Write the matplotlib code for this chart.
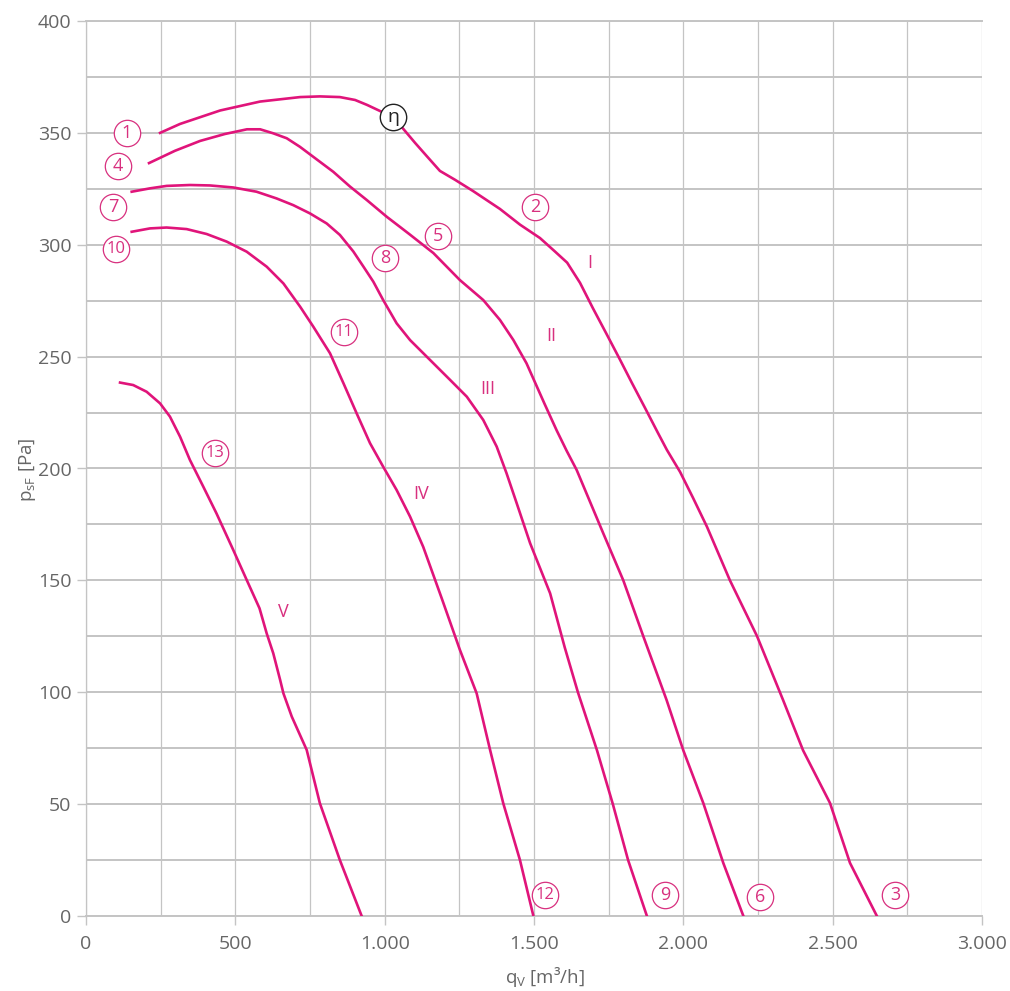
# %% ---- Requirements and constants
import numpy as np
import matplotlib
matplotlib.use("Agg")
import matplotlib.pyplot as plt
from matplotlib.ticker import MultipleLocator, FuncFormatter

plt.rcParams['font.family'] = ['Open Sans', 'DejaVu Sans']
plt.rcParams['mathtext.default'] = 'regular'

PINK = '#E0147A'
LABEL_PINK = '#D8307F'
GRID = '#C4C4C4'
TICK_TEXT = '#666666'

# %% ---- Data
# curve I, points 1 -> 2 -> 3
q_I = [248, 315, 382, 449, 516, 583, 650, 717, 783, 850, 901, 941, 984, 1028,
       1061, 1102, 1145, 1185, 1236, 1296, 1386, 1453, 1520, 1570, 1611, 1654,
       1697, 1741, 1785, 1828, 1872, 1915, 1945, 1989, 2032, 2079, 2156, 2247,
       2334, 2401, 2491, 2558, 2648]
p_I = [350, 354, 357, 360, 362, 364, 365, 366, 366.3, 366, 364.7, 362.5, 359.8, 357,
       352, 345.5, 339, 333, 329, 324, 316, 309, 303, 297, 292, 283,
       271.7, 260.6, 249.4, 238.2, 227, 215.9, 208.3, 198.5, 187, 174, 150, 125,
       96.5, 74, 50.5, 23.7, 0]

# curve II, points 4 -> 5 -> 6
q_II = [211, 298, 382, 465, 539, 583, 627, 672, 716, 761, 828, 884, 940, 1007,
        1051, 1085, 1163, 1252, 1330, 1386, 1431, 1475, 1535, 1576, 1609, 1643,
        1732, 1799, 1866, 1944, 2000, 2067, 2134, 2201]
p_II = [336.5, 342, 346.4, 349.5, 351.6, 351.6, 349.8, 347.6, 343.8, 339.3, 332.6, 326, 320, 312.5,
        308, 304.5, 296.3, 284.2, 275.3, 266.4, 257.4, 247, 229, 217, 208, 199.3,
        171, 150, 125, 96.5, 74, 50.4, 23.6, 0]

# curve III, points 7 -> 8 -> 9
q_III = [153, 214, 270, 348, 415, 493, 571, 638, 694, 750, 806, 850, 895, 929,
         962, 995, 1040, 1085, 1152, 1219, 1275, 1330, 1375, 1408, 1442, 1487,
         1554, 1603, 1647, 1711, 1764, 1815, 1878]
p_III = [323.7, 325.2, 326.3, 326.7, 326.5, 325.6, 323.7, 320.7, 317.7, 314, 309.5, 304.4, 297, 290.2,
         283.5, 275.3, 264.9, 257.4, 248.5, 239.6, 232.1, 221.7, 209.8, 197.9, 184.5, 166.6,
         144.2, 120, 100, 74, 50, 25, 0]

# curve IV, points 10 -> 11 -> 12
q_IV = [153, 214, 270, 337, 404, 471, 538, 605, 661, 717, 761, 817, 862, 906,
        951, 995, 1040, 1085, 1129, 1191, 1252, 1308, 1353, 1397, 1453, 1498]
p_IV = [305.8, 307.3, 307.7, 307, 304.8, 301.4, 296.9, 290.2, 282.7, 272.3, 263.4, 251.5, 238.1, 224.7,
        211.3, 200.8, 190.4, 178.5, 165, 142, 118.9, 99.5, 74.2, 50.4, 25, 0]

# curve V, point 13
q_V = [114, 158, 203, 248, 281, 315, 348, 393, 437, 493, 538, 581, 605, 627,
       650, 661, 689, 739, 783, 850, 923]
p_V = [238.4, 237.3, 234.3, 229.1, 223.2, 214.2, 203.8, 191.8, 179.9, 163.6, 150.2, 137.5, 126.3, 117.4,
       105.5, 99.5, 89.1, 74.2, 50.4, 25, 0]

curves = [(q_I, p_I), (q_II, p_II), (q_III, p_III), (q_IV, p_IV), (q_V, p_V)]

# circled operating point labels
point_names = ['1', '4', '7', '10', '2', '5', '8', '11', '13', '12', '9', '6', '3']
point_q = [137, 107, 90, 100, 1503, 1178, 1001, 864, 432, 1537, 1939, 2257, 2709]
point_p = [350, 335, 317, 298, 317, 304, 294, 261, 207, 9.4, 9.4, 8.5, 9.4]

# efficiency marker
eta_q, eta_p = 1028, 357

# roman curve labels
roman_names = ['I', 'II', 'III', 'IV', 'V']
roman_q = [1688, 1557, 1346, 1122, 660]
roman_p = [292, 259, 235.5, 188.6, 136]

# %% ---- Plot
fig = plt.figure(figsize=(10.10, 9.91), dpi=100)
ax = fig.add_axes([86 / 1010, 1 - 916 / 991, 896 / 1010, 895 / 991])

ax.set_xlim(0, 3000)
ax.set_ylim(0, 400)
ax.xaxis.set_major_locator(MultipleLocator(500))
ax.xaxis.set_minor_locator(MultipleLocator(250))
ax.yaxis.set_major_locator(MultipleLocator(50))
ax.yaxis.set_minor_locator(MultipleLocator(25))
ax.xaxis.set_major_formatter(FuncFormatter(lambda v, _: f"{int(v):,}".replace(',', '.')))

ax.grid(True, which='both', axis='x', color=GRID, lw=0.9)
ax.grid(True, which='both', axis='y', color=GRID, lw=1.4)
ax.set_axisbelow(True)

for side in ['left', 'bottom', 'top']:
    ax.spines[side].set_color(GRID)
    ax.spines[side].set_linewidth(1.4)
ax.spines['left'].set_linewidth(0.9)
ax.spines['right'].set_visible(False)

ax.tick_params(which='major', direction='out', length=6.5, width=1, color=GRID,
               labelcolor=TICK_TEXT, labelsize=14)
ax.tick_params(axis='y', which='major', pad=4)
ax.tick_params(axis='x', which='major', pad=7)
ax.tick_params(which='minor', length=0)

for q, p in curves:
    ax.plot(q, p, color=PINK, lw=1.9, solid_joinstyle='round', zorder=3)

# circled numbers
for name, q, p in zip(point_names, point_q, point_p):
    ax.plot(q, p, 'o', ms=19, mfc='white', mec=LABEL_PINK, mew=0.9, zorder=4,
            clip_on=False)
    size = 13 if len(name) == 1 else 12
    ax.text(q, p, name, color=LABEL_PINK, fontsize=size, ha='center', va='center',
            zorder=5)

ax.plot(eta_q, eta_p, 'o', ms=19, mfc='white', mec='#222222', mew=1.0, zorder=4)
ax.text(eta_q, eta_p, 'η', color='#222222', fontsize=14, ha='center', va='center',
        zorder=5)

for name, q, p in zip(roman_names, roman_q, roman_p):
    ax.text(q, p, name, color=LABEL_PINK, fontsize=13, ha='center', va='center')

fig.text(28 / 1010, 1 - 470 / 991, r'p$_{sF}$ [Pa]', rotation=90, color=TICK_TEXT,
         fontsize=13.5, ha='center', va='center')
fig.text(545 / 1010, 1 - 977 / 991, r'q$_{V}$ [m³/h]', color=TICK_TEXT,
         fontsize=13.5, ha='center', va='center')

fig.savefig('out.png', dpi=100)
